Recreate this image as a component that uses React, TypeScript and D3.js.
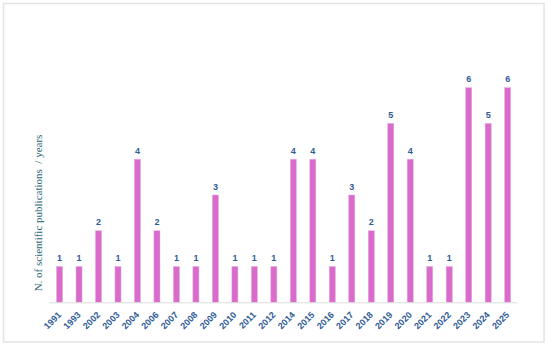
import { useEffect, useRef } from 'react';
import * as d3 from 'd3';

const years = ['1991', '1993', '2002', '2003', '2004', '2006', '2007', '2008', '2009', '2010', '2011', '2012',
  '2014', '2015', '2016', '2017', '2018', '2019', '2020', '2021', '2022', '2023', '2024', '2025'];
const counts = [1, 1, 2, 1, 4, 2, 1, 1, 3, 1, 1, 1, 4, 4, 1, 3, 2, 5, 4, 1, 1, 6, 5, 6];
const yTitle = 'N. of scientific publications  / years';

function App() {
  const svgRef = useRef(null);
  const width = 550;
  const height = 348;

  useEffect(() => {
    const svg = d3.select(svgRef.current);
    svg.selectAll('*').remove();

    const baseY = 302.3;
    const x = d3.scaleBand().domain(years).range([49.8, 517.4]).paddingInner(0.69).paddingOuter(0.345);
    const y = d3.scaleLinear().domain([0, 6]).range([baseY, 87.7]);
    const data = years.map((yr, i) => ({ yr, n: counts[i] }));

    // outer frame
    svg.append('rect')
      .attr('x', 3.5).attr('y', 3.5)
      .attr('width', 540.5).attr('height', 338.5)
      .attr('fill', 'white')
      .attr('stroke', '#e4e4e4')
      .attr('stroke-width', 1.5);

    const g = svg.append('g');

    g.selectAll('.bar')
      .data(data)
      .enter()
      .append('rect')
      .attr('class', 'bar')
      .attr('x', d => x(d.yr))
      .attr('y', d => y(d.n))
      .attr('width', x.bandwidth())
      .attr('height', d => baseY - y(d.n))
      .attr('fill', '#d96bcb')
      .attr('stroke', '#e9a6e0')
      .attr('stroke-width', 0.5);

    // baseline
    g.append('line')
      .attr('x1', 49.8).attr('x2', 517.4)
      .attr('y1', baseY + 0.5).attr('y2', baseY + 0.5)
      .attr('stroke', '#dcdcdc')
      .attr('stroke-width', 1);

    g.selectAll('.value-label')
      .data(data)
      .enter()
      .append('text')
      .attr('class', 'value-label')
      .attr('x', d => x(d.yr) + x.bandwidth() / 2)
      .attr('y', d => y(d.n) - 5.5)
      .attr('text-anchor', 'middle')
      .attr('font-family', 'Liberation Sans, Arial, sans-serif')
      .attr('font-weight', 'bold')
      .attr('font-size', '9px')
      .attr('fill', '#2f5b96')
      .text(d => d.n);

    g.selectAll('.year-label')
      .data(data)
      .enter()
      .append('text')
      .attr('class', 'year-label')
      .attr('transform', d => `translate(${x(d.yr) + x.bandwidth() / 2},${baseY + 11}) rotate(-45)`)
      .attr('text-anchor', 'end')
      .attr('dy', '0.35em')
      .attr('font-family', 'Liberation Sans, Arial, sans-serif')
      .attr('font-weight', 'bold')
      .attr('font-size', '9px')
      .attr('fill', '#2f5b96')
      .text(d => d.yr);

    svg.append('text')
      .attr('transform', 'translate(41.5,213) rotate(-90)')
      .attr('text-anchor', 'middle')
      .attr('font-family', 'Liberation Serif, Times New Roman, serif')
      .attr('font-size', '11px')
      .attr('fill', '#1f6676')
      .attr('xml:space', 'preserve')
      .style('white-space', 'pre')
      .text(yTitle);
  }, []);

  return (
    <div style={{ position: 'fixed', left: 0, top: 0 }}>
      <svg ref={svgRef} width={width} height={height} style={{ display: 'block' }} />
    </div>
  );
}

export default App;
